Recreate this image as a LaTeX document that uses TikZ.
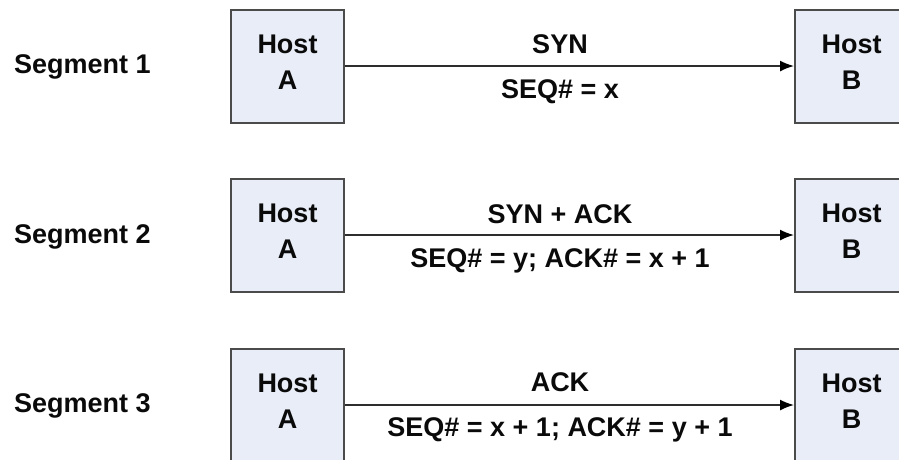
\documentclass[tikz,border=0pt]{standalone}
\usepackage{fontspec}
\setmainfont{Liberation Sans}
\usetikzlibrary{arrows.meta}
\definecolor{boxfill}{RGB}{232,237,248}
\definecolor{boxline}{RGB}{75,75,75}
\definecolor{arrowcol}{RGB}{45,45,45}
\definecolor{txt}{RGB}{10,10,10}
\tikzset{
  host/.style={draw=boxline, line width=2pt, fill=boxfill, minimum width=113pt, minimum height=113pt, inner sep=0pt, align=center, text=txt, font=\bfseries\fontsize{27}{36}\selectfont, text depth=7pt},
  msg/.style={-{Latex[length=14pt,width=11pt,color=black]}, draw=arrowcol, line width=1.6pt},
  lbl/.style={font=\bfseries\fontsize{27}{30}\selectfont, text=txt, anchor=base, inner sep=0pt},
  seglbl/.style={lbl, anchor=base west}
}
\begin{document}
\begin{tikzpicture}[x=1pt,y=-1pt]
\useasboundingbox (0,0) rectangle (899,459);
% Segment 1
\node[seglbl] (s1) at (14,73) {Segment 1};
\node[host] (a1) at (287.5,66) {Host\\A};
\node[host] (b1) at (851.5,66) {Host\\B};
\draw[msg] (a1) -- (b1);
\node[lbl] (t1) at (560,53) {SYN};
\node[lbl] (u1) at (560,98) {SEQ\# = x};
% Segment 2
\node[seglbl] (s2) at (14,243) {Segment 2};
\node[host] (a2) at (287.5,235) {Host\\A};
\node[host] (b2) at (851.5,235) {Host\\B};
\draw[msg] (a2) -- (b2);
\node[lbl] (t2) at (560,223) {SYN + ACK};
\node[lbl] (u2) at (560,267) {SEQ\# = y; ACK\# = x + 1};
% Segment 3
\node[seglbl] (s3) at (14,412) {Segment 3};
\node[host] (a3) at (287.5,405) {Host\\A};
\node[host] (b3) at (851.5,405) {Host\\B};
\draw[msg] (a3) -- (b3);
\node[lbl] (t3) at (560,391) {ACK};
\node[lbl] (u3) at (560,436) {SEQ\# = x + 1; ACK\# = y + 1};
\end{tikzpicture}
\end{document}
